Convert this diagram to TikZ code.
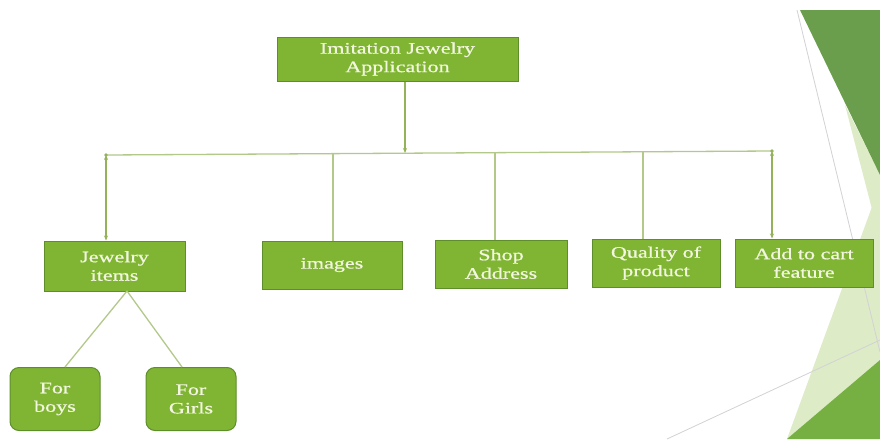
\documentclass[tikz,border=0pt]{standalone}
\usepackage{fontspec}
\setmainfont{Liberation Serif}[FakeStretch=1.38,FakeBold=0.8]
\usetikzlibrary{arrows.meta}
\definecolor{boxfill}{HTML}{80B534}
\definecolor{boxedge}{HTML}{5E8E2A}
\definecolor{boxtext}{HTML}{F3F6DF}
\definecolor{connline}{HTML}{B3C98A}
\definecolor{arrline}{HTML}{93B25A}
\definecolor{darkfacet}{HTML}{6A9E4C}
\definecolor{midfacet}{HTML}{76B043}
\definecolor{palefacet}{HTML}{DDEBC6}
\definecolor{greyline}{HTML}{D2D2D6}
\begin{document}
\begin{tikzpicture}[x=1pt,y=-1pt,
  box/.style={draw=boxedge,line width=1pt,fill=boxfill,text=boxtext,align=center,
    inner sep=0pt,font=\fontsize{16}{18.5}\selectfont},
  roundbox/.style={box,rounded corners=9pt},
  conn/.style={draw=connline,line width=1.3pt},
  arr/.style={draw=arrline,line width=1.1pt,-{Stealth[length=5pt,width=4pt]}},
  darr/.style={draw=arrline,line width=1.1pt,{Stealth[length=5pt,width=4pt]}-{Stealth[length=5pt,width=4pt]}}]
\useasboundingbox (0,0) rectangle (880,439);
\fill[white] (0,0) rectangle (880,439);
% background facets
\fill[palefacet] (880,185) -- (880,439) -- (787,439) -- cycle;
\fill[palefacet] (845,105) -- (880,175) -- (880,240) -- cycle;
\fill[darkfacet] (800,10) -- (880,10) -- (880,175) -- cycle;
\fill[midfacet] (787,439) -- (880,360) -- (880,439) -- cycle;
\draw[greyline,line width=0.8pt] (797,10) -- (880,352);
\draw[greyline,line width=0.8pt] (667,439) -- (880,340);
% nodes
\node[box,minimum width=241pt,minimum height=44pt] (root) at (397.5,59) {Imitation Jewelry\\Application};
\node[box,minimum width=141pt,minimum height=50pt] (jew) at (114.5,266) {Jewelry\\items};
\node[box,minimum width=140pt,minimum height=48pt] (img) at (332,265) {images};
\node[box,minimum width=132pt,minimum height=48pt] (shop) at (501,264) {Shop\\Address};
\node[box,minimum width=128pt,minimum height=48pt] (qual) at (656,263) {Quality of\\product};
\node[box,minimum width=138pt,minimum height=48pt] (cart) at (804,263) {Add to cart\\feature};
\node[roundbox,minimum width=90pt,minimum height=63pt] (boys) at (55,399) {For\\boys};
\node[roundbox,minimum width=90pt,minimum height=63pt] (girls) at (191,399) {For\\Girls};
% bus coordinates
\coordinate (busL) at (106,155);
\coordinate (busR) at (772,151);
\coordinate (busM) at (405,153);
\coordinate (busImg) at (333,154);
\coordinate (busShop) at (495,153);
\coordinate (busQual) at (643,152);
% connectors
\draw[conn] (busL) -- (busR);
\draw[arr] (root.south -| busM) -- (busM);
\draw[conn] (busImg) -- (busImg |- img.north);
\draw[conn] (busShop) -- (busShop |- shop.north);
\draw[conn] (busQual) -- (busQual |- qual.north);
\draw[darr] (busL) -- (busL |- jew.north);
\draw[darr] (busR) -- (busR |- cart.north);
\fill[arrline] (busL) circle (1.8pt);
\fill[arrline] (busR) circle (1.8pt);
\coordinate (jewB) at (127,291);
\draw[conn] (jewB) -- (boys.north -| 65,0);
\draw[conn] (jewB) -- (girls.north -| 182,0);
\end{tikzpicture}
\end{document}
